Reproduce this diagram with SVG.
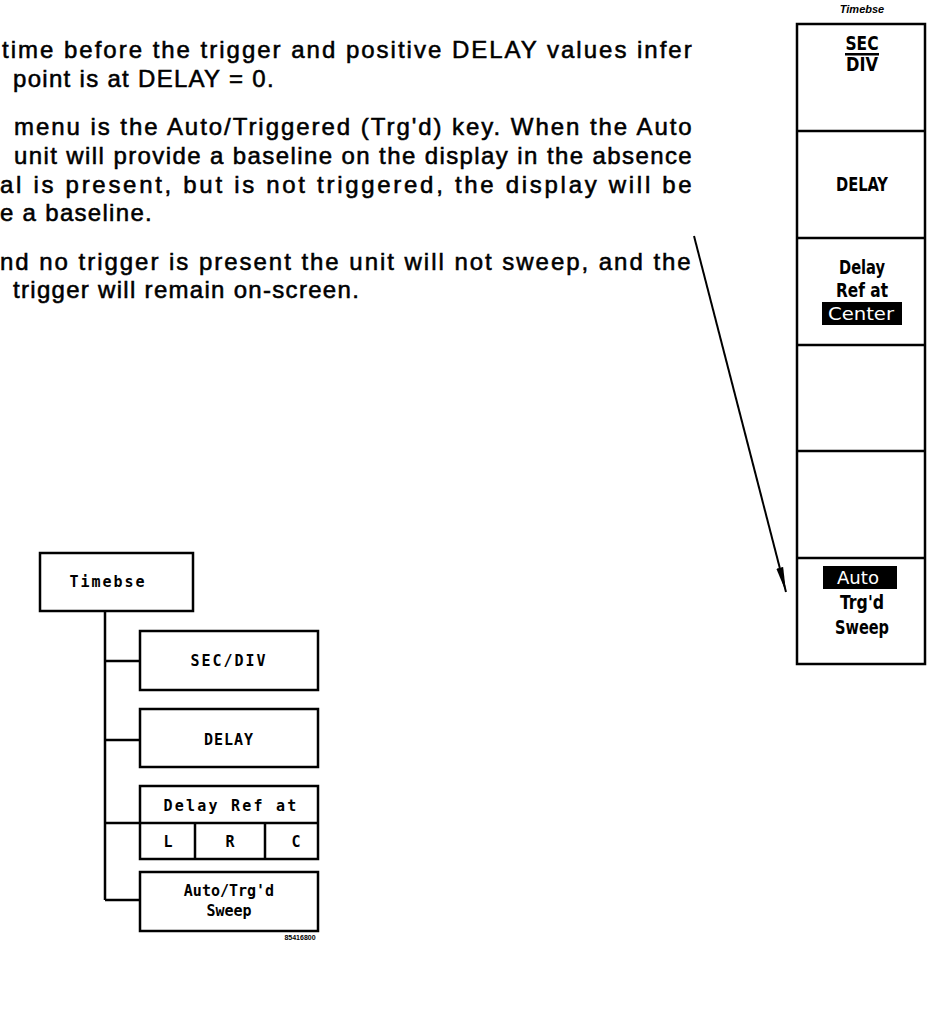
<svg xmlns="http://www.w3.org/2000/svg" width="927" height="1011" viewBox="0 0 927 1011">
<style>
.body{font-family:"Liberation Sans",Arial,sans-serif;font-size:24px;letter-spacing:1.3px;fill:#000;stroke:#000;stroke-width:0.55}
.box{fill:#fff;stroke:#000;stroke-width:2.5}
.line{fill:none;stroke:#000;stroke-width:2.5}
.mono{font-family:"DejaVu Sans Mono","Liberation Mono",monospace;font-weight:bold;font-size:15px;fill:#000;text-anchor:middle}
.key{font-family:"DejaVu Sans Condensed","Liberation Sans Narrow","DejaVu Sans",sans-serif;font-weight:bold;font-size:19px;fill:#000;text-anchor:middle}
.inv{font-family:"DejaVu Sans Condensed","Liberation Sans Narrow","DejaVu Sans",sans-serif;font-size:17px;fill:#fff;text-anchor:middle}
</style>
<defs>
<marker id="arr" markerWidth="26" markerHeight="10" refX="25" refY="5" orient="auto" markerUnits="userSpaceOnUse">
<path d="M0,1.5 L25,5 L0,8.5 Z" fill="#000"/>
</marker>
</defs>
<g id="text">
<text class="body" x="2" y="58" textLength="691" lengthAdjust="spacing">time before the trigger and positive DELAY values infer</text>
<text class="body" x="13" y="87">point is at DELAY = 0.</text>
<text class="body" x="14" y="135" textLength="679" lengthAdjust="spacing">menu is the Auto/Triggered (Trg'd) key.  When the Auto</text>
<text class="body" x="14" y="164" textLength="679" lengthAdjust="spacing">unit will provide a baseline on the display in the absence</text>
<text class="body" x="0" y="193" textLength="693" lengthAdjust="spacing">al is present, but is not triggered, the display will be</text>
<text class="body" x="0" y="221">e a baseline.</text>
<text class="body" x="0" y="270" textLength="692" lengthAdjust="spacing">nd no trigger is present the unit will not sweep, and the</text>
<text class="body" x="13" y="298">trigger will remain on-screen.</text>
</g>
<g id="connectors">
<path class="line" d="M105,611 V900 M105,661 H140 M105,740 H140 M105,823 H140 M105,900 H140"/>
<line x1="694" y1="236" x2="786" y2="592" stroke="#000" stroke-width="2" marker-end="url(#arr)"/>
</g>
<g id="node-timebse">
<rect class="box" x="40" y="553" width="153" height="58"/>
<text class="mono" x="108" y="587" letter-spacing="2">Timebse</text>
</g>
<g id="node-secdiv">
<rect class="box" x="140" y="631" width="178" height="59"/>
<text class="mono" x="229" y="666" letter-spacing="2">SEC/DIV</text>
</g>
<g id="node-delay">
<rect class="box" x="140" y="709" width="178" height="58"/>
<text class="mono" x="229" y="745" letter-spacing="1">DELAY</text>
</g>
<g id="node-delayref">
<rect class="box" x="140" y="786" width="178" height="73"/>
<path class="line" d="M140,823 H318 M195,823 V859 M265,823 V859"/>
<text class="mono" x="231" y="811" letter-spacing="2.2">Delay Ref at</text>
<text class="mono" x="168" y="847">L</text>
<text class="mono" x="230" y="847">R</text>
<text class="mono" x="296" y="847">C</text>
</g>
<g id="node-auto">
<rect class="box" x="140" y="872" width="178" height="59"/>
<text class="mono" x="229" y="896" font-size="14">Auto/Trg'd</text>
<text class="mono" x="229" y="916" font-size="14">Sweep</text>
<text x="300" y="940" font-family="Liberation Sans,sans-serif" font-size="7" font-weight="bold" text-anchor="middle">85416800</text>
</g>
<g id="panel">
<text x="862" y="13" font-family="Liberation Sans,sans-serif" font-size="11" font-weight="bold" font-style="italic" text-anchor="middle">Timebse</text>
<rect class="box" x="797" y="24" width="128" height="640"/>
<path class="line" d="M797,131 H925 M797,238 H925 M797,345 H925 M797,451 H925 M797,558 H925"/>
</g>
<g id="key-secdiv">
<text class="key" x="862" y="50" textLength="33" lengthAdjust="spacingAndGlyphs">SEC</text>
<rect x="845" y="53" width="34" height="2.5" fill="#000"/>
<text class="key" x="862" y="71" textLength="32" lengthAdjust="spacingAndGlyphs">DIV</text>
</g>
<g id="key-delay">
<text class="key" x="862" y="191" textLength="52" lengthAdjust="spacingAndGlyphs">DELAY</text>
</g>
<g id="key-delayref">
<text class="key" x="862" y="274" textLength="46" lengthAdjust="spacingAndGlyphs">Delay</text>
<text class="key" x="862" y="297" textLength="52" lengthAdjust="spacingAndGlyphs">Ref at</text>
<rect x="822" y="302" width="80" height="23" fill="#000"/>
<text class="inv" x="861" y="320" textLength="66" lengthAdjust="spacingAndGlyphs">Center</text>
</g>
<g id="key-auto">
<rect x="823" y="566" width="74" height="23" fill="#000"/>
<text class="inv" x="858" y="584" textLength="42" lengthAdjust="spacingAndGlyphs">Auto</text>
<text class="key" x="862" y="609" textLength="44" lengthAdjust="spacingAndGlyphs">Trg'd</text>
<text class="key" x="862" y="634" textLength="54" lengthAdjust="spacingAndGlyphs">Sweep</text>
</g>
</svg>
